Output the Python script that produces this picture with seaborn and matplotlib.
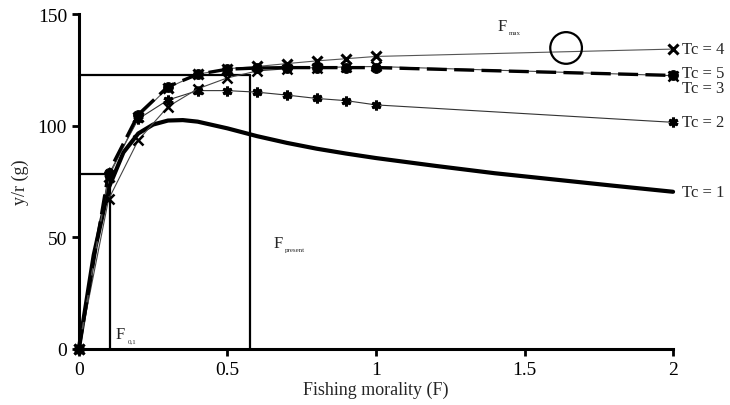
import matplotlib
matplotlib.use("Agg")
import matplotlib.pyplot as plt
import seaborn as sns
import pandas as pd

# ---- data ----
f_tc1 = [0, 0.05, 0.1, 0.15, 0.2, 0.25, 0.3, 0.35, 0.4, 0.5, 0.6, 0.7, 0.8, 0.9, 1.0, 1.2, 1.4, 1.6, 1.8, 2.0]
y_tc1 = [0, 42, 72, 88, 96.5, 100.5, 102.3, 102.5, 101.8, 98.8, 95.3, 92.3, 89.7, 87.5, 85.5, 82, 78.7, 75.9, 73.1, 70.4]

f_pts = [0, 0.1, 0.2, 0.3, 0.4, 0.5, 0.6, 0.7, 0.8, 0.9, 1.0, 2.0]
y_tc2 = [0, 78, 103, 111.5, 115.7, 115.7, 115, 113.7, 112.2, 111.2, 109.3, 101.5]
y_tc3 = [0, 67, 93.5, 108.5, 116.5, 121.4, 124.5, 125.5, 126, 126.3, 126.5, 122.4]
y_tc4 = [0, 77, 104, 117, 123, 125.5, 126.5, 127.8, 129, 130, 131, 134.3]
y_tc5 = [0, 79, 105, 117.5, 123, 125.3, 125.8, 126, 126, 126, 126, 122.5]

tc_labels = ["Tc = 4", "Tc = 5", "Tc = 3", "Tc = 2", "Tc = 1"]
tc_label_y = [134.3, 123.8, 116.8, 101.5, 70.4]

f01, y01 = 0.104, 78.4
f_present, y_present = 0.575, 122.7
f_max, y_max = 1.64, 134.8

# ---- style ----
sns.set_style("ticks")
plt.rcParams['font.family'] = ['Liberation Serif', 'DejaVu Serif']

fig = plt.figure(figsize=(7.3, 4.06), dpi=100)
ax = fig.add_axes([0.108, 0.138, 0.814, 0.825])

# reference lines
ax.plot([0, f01], [y01, y01], color="black", lw=1.6)
ax.plot([f01, f01], [0, y01], color="black", lw=1.6)
ax.plot([0, f_present], [y_present, y_present], color="black", lw=1.6)
ax.plot([f_present, f_present], [0, y_present], color="black", lw=1.6)

d1 = pd.DataFrame({"F": f_tc1, "Y": y_tc1})
sns.lineplot(data=d1, x="F", y="Y", ax=ax, color="black", lw=3.0, zorder=3)

d2 = pd.DataFrame({"F": f_pts, "Y": y_tc2})
sns.lineplot(data=d2, x="F", y="Y", ax=ax, color="#333333", lw=0.8, marker=(6, 2, 0),
             markersize=7, markeredgewidth=2.2, markeredgecolor="black", zorder=4)

d3 = pd.DataFrame({"F": f_pts, "Y": y_tc3})
sns.lineplot(data=d3, x="F", y="Y", ax=ax, color="#444444", lw=0.8, marker="x",
             markersize=6.5, markeredgewidth=1.8, markeredgecolor="black", zorder=4)

d4 = pd.DataFrame({"F": f_pts, "Y": y_tc4})
sns.lineplot(data=d4, x="F", y="Y", ax=ax, color="#555555", lw=0.8, marker="x",
             markersize=7, markeredgewidth=2.2, markeredgecolor="black", zorder=4)

d5 = pd.DataFrame({"F": f_pts, "Y": y_tc5})
sns.lineplot(data=d5, x="F", y="Y", ax=ax, color="black", lw=2.4, marker="o",
             markersize=7, markerfacecolor="black", markeredgecolor="black", zorder=5)
ax.lines[-1].set_linestyle((0, (6, 2.2)))

for ln in ax.lines:
    ln.set_clip_on(False)

# Fmax circle
ax.scatter([f_max], [y_max], s=520, facecolors="none", edgecolors="black", linewidths=1.6, zorder=6)

# annotations
ax.text(1.41, 141, "F", fontsize=12, va="bottom")
ax.text(1.447, 140.5, "max", fontsize=5, va="bottom")
ax.text(0.125, 3, "F", fontsize=12, va="bottom")
ax.text(0.163, 2.5, "0,1", fontsize=5, va="bottom")
ax.text(0.655, 44, "F", fontsize=12, va="bottom")
ax.text(0.692, 43.5, "present", fontsize=5, va="bottom")

for lab, yy in zip(tc_labels, tc_label_y):
    ax.text(2.03, yy, lab, fontsize=12, va="center", ha="left", clip_on=False)

ax.set_xlim(0, 2)
ax.set_ylim(0, 150)
ax.set_xticks([0, 0.5, 1, 1.5, 2])
ax.set_xticklabels(["0", "0.5", "1", "1.5", "2"])
ax.set_yticks([0, 50, 100, 150])
ax.tick_params(axis="both", labelsize=14, width=2, length=5, direction="out", colors="black")
for s in ["top", "right"]:
    ax.spines[s].set_visible(False)
for s in ["left", "bottom"]:
    ax.spines[s].set_linewidth(2.2)
    ax.spines[s].set_color("black")
ax.set_xlabel("Fishing morality (F)", fontsize=13, labelpad=2)
ax.set_ylabel("y/r (g)", fontsize=13, labelpad=6)

fig.savefig("out.png", dpi=100)
